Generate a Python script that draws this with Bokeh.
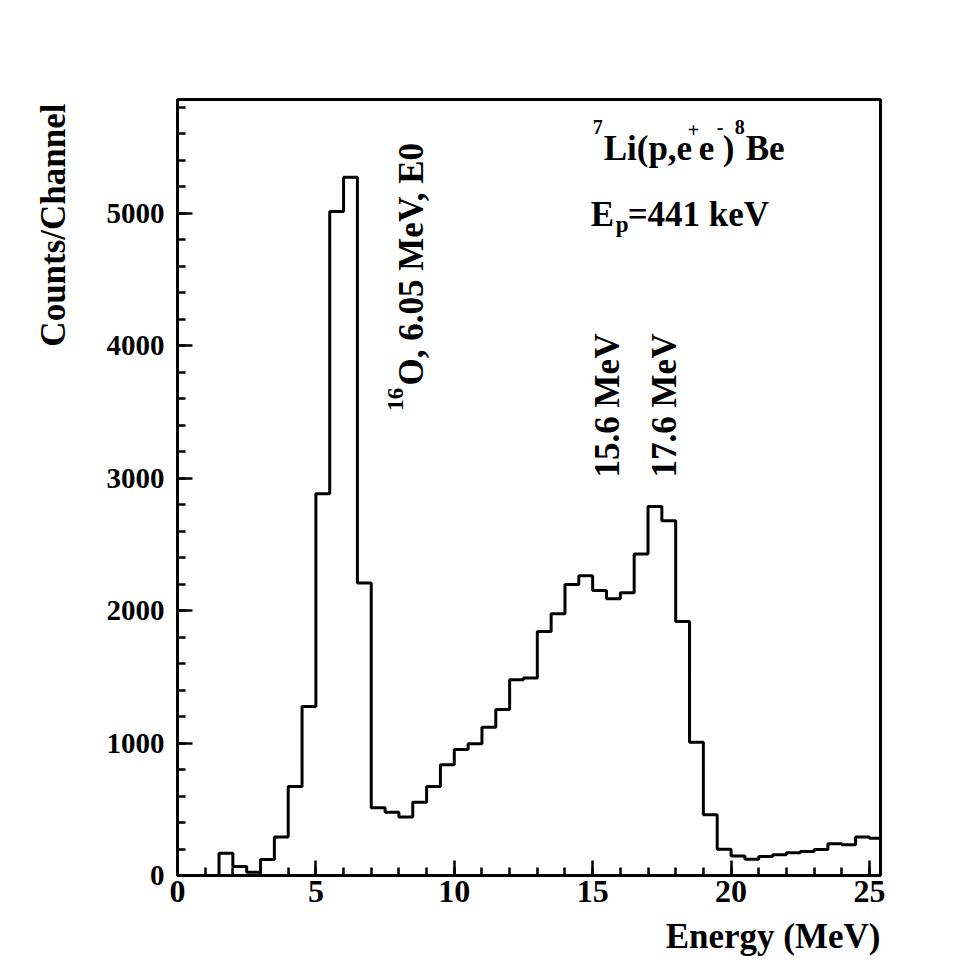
import math
from bokeh.plotting import figure
from bokeh.models import SingleIntervalTicker, Label, Range1d, Title
from bokeh.embed import file_html
from bokeh.resources import INLINE

# ---- data: 0.5 MeV wide energy bins (lower edges) and counts per channel ----
energy_lo = [0.0, 0.5, 1.0, 1.5, 2.0, 2.5, 3.0, 3.5, 4.0, 4.5,
             5.0, 5.5, 6.0, 6.5, 7.0, 7.5, 8.0, 8.5, 9.0, 9.5,
             10.0, 10.5, 11.0, 11.5, 12.0, 12.5, 13.0, 13.5, 14.0, 14.5,
             15.0, 15.5, 16.0, 16.5, 17.0, 17.5, 18.0, 18.5, 19.0, 19.5,
             20.0, 20.5, 21.0, 21.5, 22.0, 22.5, 23.0, 23.5, 24.0, 24.5,
             25.0]
bin_width = 0.5
counts = [0, 0, 0, 168, 68, 25, 121, 290, 672, 1276,
          2883, 5015, 5272, 2208, 511, 478, 441, 554, 672, 836,
          952, 994, 1120, 1254, 1478, 1491, 1843, 1976, 2198, 2263,
          2152, 2089, 2135, 2427, 2787, 2679, 1918, 1007, 458, 199,
          148, 123, 143, 156, 171, 181, 196, 239, 232, 290,
          282]

x_title = "Energy (MeV)"
y_title = "Counts/Channel"
x_max = 25.4
y_max = 5860

FONT = "Liberation Serif"

p = figure(width=955, height=965, output_backend="svg", toolbar_location=None,
           x_range=Range1d(0, x_max), y_range=Range1d(0, y_max),
           min_border_left=177, min_border_right=75,
           min_border_top=99, min_border_bottom=90)
p.background_fill_color = "white"
p.border_fill_color = "white"
p.outline_line_color = "black"
p.outline_line_width = 3
p.xgrid.visible = False
p.ygrid.visible = False

# histogram outline
step_x = energy_lo + [energy_lo[-1] + bin_width]
step_y = counts + [counts[-1]]
p.step(step_x, step_y, mode="after", line_color="black", line_width=3)

for ax in (p.xaxis[0], p.yaxis[0]):
    ax.axis_line_width = 3
    ax.axis_line_color = "black"
    ax.major_tick_in = 15
    ax.major_tick_out = 0
    ax.minor_tick_in = 8
    ax.minor_tick_out = 0
    ax.major_tick_line_width = 2.5
    ax.minor_tick_line_width = 2.5
    ax.major_tick_line_color = "black"
    ax.minor_tick_line_color = "black"
    ax.major_label_text_font = FONT
    ax.major_label_text_font_style = "bold"
    ax.major_label_text_color = "black"

p.xaxis[0].ticker = SingleIntervalTicker(interval=5, num_minor_ticks=5)
p.yaxis[0].ticker = SingleIntervalTicker(interval=1000, num_minor_ticks=5)
p.xaxis[0].major_label_text_font_size = "32px"
p.yaxis[0].major_label_text_font_size = "29px"
p.xaxis[0].major_label_standoff = 5
p.yaxis[0].major_label_standoff = 13

# axis titles as end-aligned titles
has_standoff = "standoff" in Title().properties()


def axis_title(text, loc, standoff, offset):
    t = Title(text=text, align="right", offset=offset,
              text_font=FONT, text_font_style="bold", text_font_size="35px",
              text_color="black")
    if has_standoff:
        t.standoff = standoff
    p.add_layout(t, loc)


axis_title(x_title, "below", 20, 0)
axis_title(y_title, "left", 62, 4)


def lab(x, y, text, size, dx=0, dy=0, angle=0.0):
    p.add_layout(Label(x=x, y=y, x_offset=dx, y_offset=dy, text=text, angle=angle,
                       text_font=FONT, text_font_style="bold", text_font_size=size,
                       text_color="black", text_align="left", text_baseline="alphabetic"))


HALF_PI = math.pi / 2
BIG = "35px"
SUP = "20px"

# reaction label
rx, ry = 15.0, 5491
lab(rx, ry, "7", SUP, dx=0, dy=21)
lab(rx, ry, "Li(p,e", BIG, dx=11)
lab(rx, ry, "+", SUP, dx=95, dy=18)
lab(rx, ry, "e", BIG, dx=106)
lab(rx, ry, "-", SUP, dx=124, dy=21)
lab(rx, ry, ")", BIG, dx=130)
lab(rx, ry, "8", SUP, dx=142, dy=21)
lab(rx, ry, "Be", BIG, dx=153)

# beam energy label
lab(rx, ry, "E", BIG, dx=-2, dy=-66)
lab(rx, ry, "p", "23px", dx=23, dy=-76)
lab(rx, ry, "=441 keV", BIG, dx=35, dy=-66)

# peak annotations (rotated)
lab(8.47, 3701, "O, 6.05 MeV, E0", BIG, angle=HALF_PI)
lab(7.86, 3510, "16", "23px", angle=HALF_PI)
lab(15.55, 3006, "15.6 MeV", BIG, angle=HALF_PI)
lab(17.58, 3006, "17.6 MeV", BIG, angle=HALF_PI)

open("out.html", "w").write(file_html(p, INLINE))
